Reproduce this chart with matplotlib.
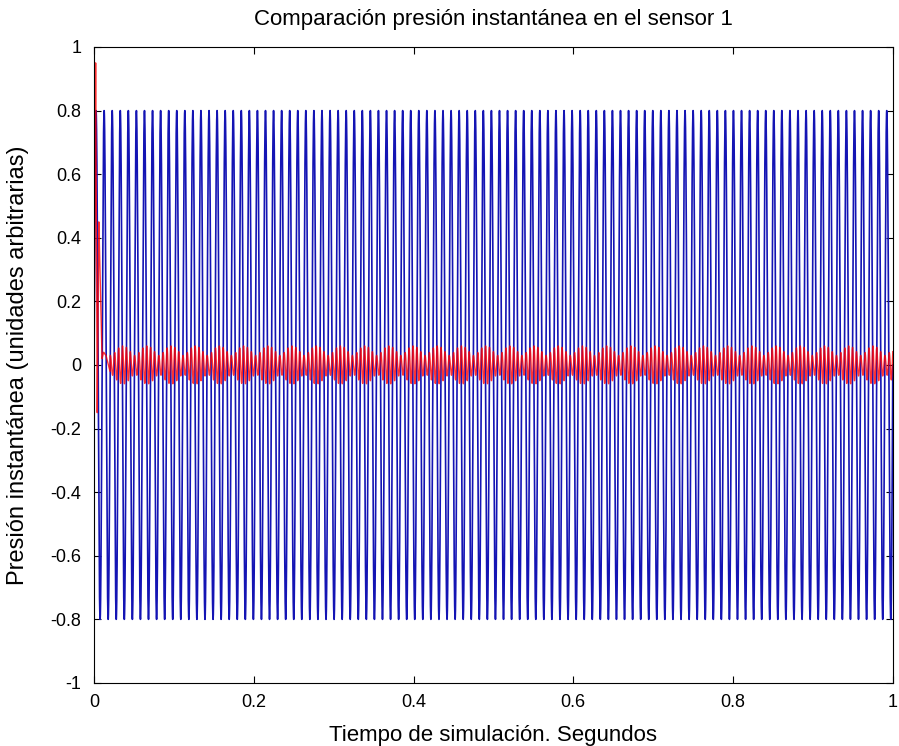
import numpy as np
import matplotlib.pyplot as plt

plt.rcParams["font.family"] = ["Liberation Sans", "DejaVu Sans"]

# lecturas de la figura
blue_freq = 99.0            # Hz, ~99 ciclos en 1 s
blue_amp = 0.80
red_start_t = [0.0, 0.002, 0.004, 0.006, 0.008, 0.010, 0.012, 0.015, 0.020]
red_start_v = [0.0, 0.95, -0.15, 0.45, 0.25, 0.02, 0.04, 0.03, -0.02]
red_ripple_amp = [0.045, 0.015]
red_ripple_freq = [198.0, 231.0]

x_ticks = [0, 0.2, 0.4, 0.6, 0.8, 1]
x_labels = ["0", "0.2", "0.4", "0.6", "0.8", "1"]
y_ticks = [-1, -0.8, -0.6, -0.4, -0.2, 0, 0.2, 0.4, 0.6, 0.8, 1]
y_labels = ["-1", "-0.8", "-0.6", "-0.4", "-0.2", "0", "0.2", "0.4", "0.6", "0.8", "1"]

t = np.linspace(0, 1, 20001)
blue = blue_amp * np.sin(2 * np.pi * blue_freq * t)

red = red_ripple_amp[0] * np.sin(2 * np.pi * red_ripple_freq[0] * t + 1.2) \
    + red_ripple_amp[1] * np.sin(2 * np.pi * red_ripple_freq[1] * t)
start = t <= red_start_t[-1]
red[start] = np.interp(t[start], red_start_t, red_start_v)

fig = plt.figure(figsize=(8.99, 7.46), dpi=100)
ax = fig.add_axes([0.1046, 0.0845, 0.8885, 0.8525])

ax.plot(t, blue, color="#1414b4", linewidth=1.2)
ax.plot(t, red, color="#ff0000", linewidth=1.0, alpha=0.8)

ax.set_xlim(0, 1)
ax.set_ylim(-1, 1)
ax.set_xticks(x_ticks)
ax.set_xticklabels(x_labels)
ax.set_yticks(y_ticks)
ax.set_yticklabels(y_labels)
ax.tick_params(direction="in", top=True, right=True, labelsize=13, length=5)
ax.tick_params(axis="x", pad=8)
ax.tick_params(axis="y", pad=9)

ax.set_title("Comparación presión instantánea en el sensor 1", fontsize=16, pad=16)
ax.set_xlabel("Tiempo de simulación. Segundos", fontsize=16, va="center")
ax.set_ylabel("Presión instantánea (unidades arbitrarias)", fontsize=17, va="center")
ax.xaxis.set_label_coords(0.5, -0.082)
ax.yaxis.set_label_coords(-0.095, 0.5)

fig.savefig("out.png", dpi=100)
